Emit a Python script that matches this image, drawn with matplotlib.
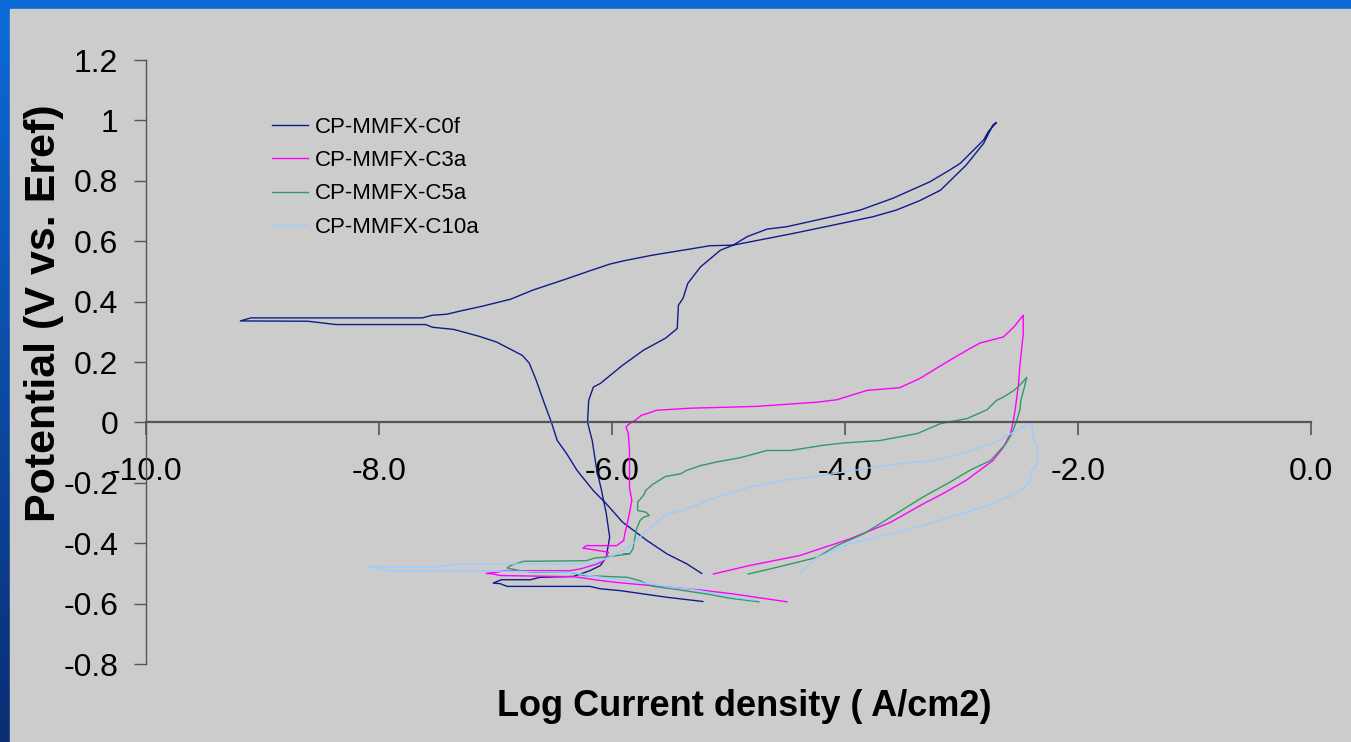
import numpy as np
import matplotlib
matplotlib.use("Agg")
from matplotlib import pyplot as plt
from matplotlib.patches import Rectangle

# cyclic polarization curves (log i, E)
c0f_x = [-5.22, -5.53, -5.93, -6.10, -6.19, -6.90, -6.96, -7.02, -6.95, -6.70, -6.62, -6.33,
         -6.19, -6.10, -6.05, -6.02, -6.05, -6.09, -6.13, -6.17, -6.21, -6.20, -6.16, -6.10,
         -5.91, -5.73, -5.54, -5.44, -5.43, -5.39, -5.35, -5.24, -5.07, -4.96, -4.44, -3.76,
         -3.56, -3.36, -3.18, -2.96, -2.81, -2.73, -2.70, -2.77, -2.81, -3.01, -3.10, -3.27,
         -3.59, -3.87, -4.01, -4.50, -4.67, -4.84, -4.96, -5.16, -5.30, -5.65, -5.90, -6.02,
         -6.19, -6.40, -6.68, -6.87, -7.11, -7.30, -7.42, -7.54, -7.63, -9.10, -9.19, -8.61,
         -8.37, -7.60, -7.54, -7.36, -7.14, -6.99, -6.87, -6.77, -6.71, -6.65, -6.59, -6.52,
         -6.47, -6.39, -6.30, -6.16, -6.05, -5.91, -5.70, -5.53, -5.36, -5.23]
c0f_y = [-0.593, -0.579, -0.557, -0.551, -0.543, -0.543, -0.534, -0.532, -0.521, -0.521, -0.513, -0.510,
         -0.491, -0.474, -0.447, -0.380, -0.300, -0.225, -0.159, -0.060, 0.000, 0.073, 0.117, 0.129,
         0.189, 0.239, 0.279, 0.311, 0.388, 0.411, 0.460, 0.515, 0.570, 0.587, 0.626, 0.681,
         0.703, 0.734, 0.769, 0.852, 0.924, 0.985, 0.993, 0.963, 0.935, 0.858, 0.836, 0.797,
         0.742, 0.703, 0.690, 0.648, 0.640, 0.615, 0.587, 0.585, 0.576, 0.554, 0.535, 0.524,
         0.502, 0.474, 0.438, 0.408, 0.385, 0.369, 0.358, 0.355, 0.346, 0.346, 0.336, 0.335,
         0.324, 0.324, 0.315, 0.308, 0.285, 0.266, 0.242, 0.222, 0.196, 0.139, 0.073, 0.000,
         -0.060, -0.103, -0.159, -0.226, -0.269, -0.330, -0.391, -0.435, -0.468, -0.500]

c3a_x = [-4.50, -4.96, -5.24, -5.65, -5.96, -6.13, -6.25, -6.33, -6.96, -7.02, -7.08, -6.99,
         -6.93, -6.36, -6.27, -6.13, -6.07, -6.03, -6.25, -6.22, -5.96, -5.90, -5.89, -5.87,
         -5.85, -5.83, -5.85, -5.85, -5.86, -5.88, -5.85, -5.80, -5.75, -5.66, -5.62, -5.33,
         -4.76, -4.24, -4.07, -3.81, -3.53, -3.36, -3.10, -2.93, -2.84, -2.64, -2.55, -2.47,
         -2.47, -2.50, -2.51, -2.54, -2.56, -2.58, -2.64, -2.73, -2.96, -3.16, -3.33, -3.61,
         -3.96, -4.39, -4.82, -5.13]
c3a_y = [-0.594, -0.568, -0.555, -0.541, -0.530, -0.522, -0.515, -0.511, -0.507, -0.502, -0.500, -0.496,
         -0.491, -0.491, -0.485, -0.469, -0.458, -0.430, -0.416, -0.408, -0.408, -0.391, -0.369, -0.336,
         -0.300, -0.259, -0.215, -0.093, -0.037, -0.015, -0.004, 0.007, 0.023, 0.034, 0.040, 0.047,
         0.053, 0.067, 0.075, 0.106, 0.115, 0.145, 0.206, 0.244, 0.263, 0.283, 0.316, 0.355,
         0.295, 0.183, 0.128, 0.040, -0.004, -0.038, -0.082, -0.126, -0.192, -0.236, -0.270, -0.331,
         -0.386, -0.441, -0.474, -0.502]

c5a_x = [-4.74, -4.99, -5.19, -5.47, -5.64, -5.70, -5.76, -5.87, -6.24, -6.36, -6.67, -6.79,
         -6.90, -6.87, -6.76, -6.22, -6.15, -6.08, -6.02, -5.86, -5.90, -5.85, -5.82, -5.79,
         -5.76, -5.73, -5.68, -5.71, -5.78, -5.78, -5.73, -5.71, -5.65, -5.54, -5.41, -5.36,
         -5.24, -5.10, -4.90, -4.67, -4.47, -4.19, -4.01, -3.70, -3.38, -3.18, -2.95, -2.78,
         -2.70, -2.64, -2.55, -2.50, -2.44, -2.46, -2.49, -2.50, -2.53, -2.57, -2.62, -2.75,
         -2.93, -3.10, -3.33, -3.61, -3.84, -4.07, -4.24, -4.47, -4.64, -4.83]
c5a_y = [-0.594, -0.582, -0.568, -0.552, -0.543, -0.535, -0.524, -0.513, -0.507, -0.496, -0.496, -0.491,
         -0.482, -0.474, -0.460, -0.458, -0.449, -0.447, -0.444, -0.436, -0.436, -0.436, -0.419, -0.353,
         -0.325, -0.314, -0.308, -0.297, -0.292, -0.264, -0.242, -0.225, -0.205, -0.179, -0.170, -0.159,
         -0.143, -0.131, -0.117, -0.093, -0.093, -0.076, -0.068, -0.060, -0.037, -0.004, 0.013, 0.042,
         0.073, 0.084, 0.106, 0.123, 0.149, 0.117, 0.073, 0.040, 0.001, -0.038, -0.071, -0.126,
         -0.159, -0.198, -0.247, -0.314, -0.369, -0.408, -0.447, -0.469, -0.485, -0.502]

c10a_x = [-4.78, -4.96, -5.10, -5.33, -5.50, -5.67, -5.99, -6.13, -6.27, -6.36, -7.22, -7.93,
          -7.99, -8.08, -7.48, -7.33, -6.96, -6.19, -6.13, -6.02, -5.87, -5.79, -5.67, -5.53,
          -5.39, -5.10, -4.81, -4.53, -4.10, -3.67, -3.24, -2.95, -2.67, -2.58, -2.40, -2.38,
          -2.35, -2.35, -2.40, -2.41, -2.47, -2.53, -2.67, -2.81, -3.10, -3.38, -3.67, -3.96,
          -4.24, -4.38]
c10a_y = [-0.588, -0.579, -0.568, -0.552, -0.546, -0.535, -0.518, -0.511, -0.502, -0.496, -0.491, -0.491,
          -0.482, -0.478, -0.478, -0.469, -0.469, -0.469, -0.463, -0.446, -0.419, -0.391, -0.347, -0.303,
          -0.292, -0.247, -0.214, -0.192, -0.170, -0.143, -0.126, -0.098, -0.060, -0.038, 0.000, -0.059,
          -0.081, -0.142, -0.159, -0.192, -0.220, -0.236, -0.258, -0.280, -0.314, -0.347, -0.375, -0.402,
          -0.447, -0.496]

names = ['CP-MMFX-C0f', 'CP-MMFX-C3a', 'CP-MMFX-C5a', 'CP-MMFX-C10a']
colors = ['#101c8a', '#ff00ff', '#339966', '#99ccff']

y_ticks = [-0.8, -0.6, -0.4, -0.2, 0, 0.2, 0.4, 0.6, 0.8, 1, 1.2]
y_labels = ['-0.8', '-0.6', '-0.4', '-0.2', '0', '0.2', '0.4', '0.6', '0.8', '1', '1.2']
x_ticks = [-10, -8, -6, -4, -2, 0]
x_labels = ['-10.0', '-8.0', '-6.0', '-4.0', '-2.0', '0.0']

plt.rcParams['font.family'] = ['Liberation Sans', 'DejaVu Sans']

W, H = 1351, 742
fig = plt.figure(figsize=(W / 100, H / 100), dpi=100)

# slide background: blue border strips, gray panel
bg = fig.add_axes([0, 0, 1, 1], zorder=-10)
grad = np.linspace(0, 1, 256).reshape(-1, 1)
top_c = np.array([0.05, 0.42, 0.85])
bot_c = np.array([0.04, 0.18, 0.45])
img = top_c[None, None, :] * (1 - grad[:, :, None]) + bot_c[None, None, :] * grad[:, :, None]
bg.imshow(img, aspect='auto', extent=[0, 1, 0, 1])
bg.add_patch(Rectangle((10 / W, 0), 1, 1 - 9 / H, color='#cccccc', zorder=2))
bg.set_xlim(0, 1)
bg.set_ylim(0, 1)
bg.axis('off')

ax = fig.add_axes([146 / W, 1 - 664 / H, (1311 - 146) / W, (664 - 60) / H])
ax.set_facecolor('#cccccc')
ax.patch.set_alpha(0)

series = [(c0f_x, c0f_y), (c3a_x, c3a_y), (c5a_x, c5a_y), (c10a_x, c10a_y)]
for (xs, ys), name, col in zip(series, names, colors):
    ax.plot(xs, ys, color=col, lw=1.0, label=name)

ax.set_xlim(-10, 0)
ax.set_ylim(-0.8, 1.2)
ax.spines['top'].set_visible(False)
ax.spines['right'].set_visible(False)
ax.spines['bottom'].set_position(('data', 0))
for s in ['left', 'bottom']:
    ax.spines[s].set_color('#555555')
ax.spines['left'].set_linewidth(1.0)
ax.spines['bottom'].set_linewidth(1.6)

ax.set_yticks(y_ticks)
ax.set_yticklabels(y_labels)
ax.set_xticks(x_ticks)
ax.set_xticklabels(x_labels)
ax.tick_params(axis='y', direction='out', length=9, width=1.0, color='#555555',
               labelsize=23, pad=11)
ax.tick_params(axis='x', direction='out', length=9, width=1.2, color='#555555',
               labelsize=23, pad=16)

fig.text(744 / W, 1 - 707 / H, 'Log Current density ( A/cm2)', ha='center', va='center',
         fontsize=26, fontweight='bold')
fig.text(44 / W, 1 - 313 / H, 'Potential (V vs. Eref)', ha='center', va='center',
         rotation=90, fontsize=31, fontweight='bold')

ax.legend(loc='upper left', bbox_to_anchor=(252 / W, 1 - 97 / H), bbox_transform=fig.transFigure,
          frameon=False, fontsize=16, handlelength=1.6, handletextpad=0.35, labelspacing=0.55)

fig.savefig('out.png', dpi=100)
